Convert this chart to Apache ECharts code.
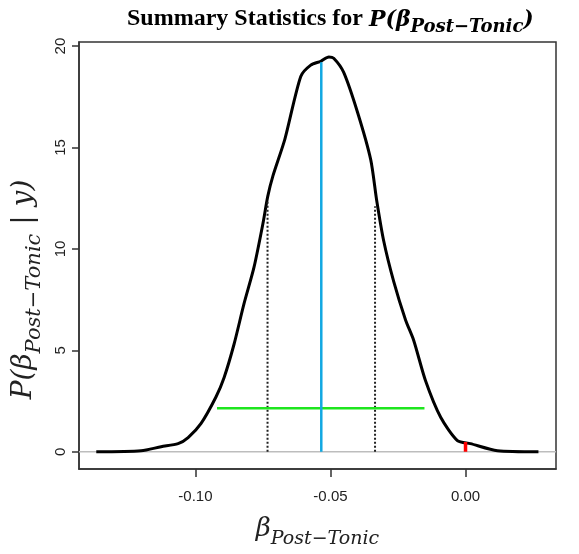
<!DOCTYPE html>
<html>
<head>
<meta charset="utf-8">
<script src="https://cdn.jsdelivr.net/npm/echarts@6/dist/echarts.min.js"></script>
<style>
  html, body { margin: 0; padding: 0; background: #fff; }
</style>
</head>
<body>
<div id="chart" style="width: 579px; height: 554px"></div>
<script>
// posterior density of beta
var betaX = [-0.1367, -0.1201, -0.1127, -0.1064, -0.1027, -0.0979, -0.0924, -0.0894, -0.0857, -0.0820,
  -0.0783, -0.0750, -0.0732, -0.0713, -0.0669, -0.0610, -0.0573, -0.0536, -0.0506, -0.0488,
  -0.0451, -0.0399, -0.0351, -0.0329, -0.0303, -0.0266, -0.0222, -0.0192, -0.0148, -0.0092,
  -0.0030, 0.0018, 0.0118, 0.0270];
var density = [0, 0.05, 0.25, 0.4, 0.7, 1.4, 2.7, 3.65, 5.3, 7.3,
  9.1, 11.25, 12.6, 13.6, 15.4, 18.5, 19.06, 19.25, 19.46, 19.4,
  18.7, 16.7, 14.4, 12.4, 10.4, 8.4, 6.5, 5.5, 3.5, 1.7,
  0.55, 0.4, 0.05, 0];

// summary statistics
var meanX = -0.0534;
var meanTop = 19.2;
var quartX = [-0.0733, -0.0335];
var quartTop = [12.4, 12.1];
var hdiX = [-0.0920, -0.0152];
var hdiY = 2.14;
var zeroTop = 0.48;

var xTicks = [-0.10, -0.05, 0.00];
var yTicks = [0, 5, 10, 15, 20];

var chart = echarts.init(document.getElementById("chart"));

function seg(x1, y1, x2, y2) {
  return [[x1, y1], [x2, y2]];
}

var serif = "Liberation Serif";
var mathFont = "DejaVu Serif";

var option = {
  animation: false,
  title: {
    left: 122,
    top: 2,
    text: "{n|Summary Statistics for}{p|P(β}{s|Post−Tonic}{m|)}",
    textStyle: {
      rich: {
        n: { fontFamily: serif, fontWeight: "bold", fontSize: 24, color: "#000", verticalAlign: "bottom", padding: [0, 0, 5, 0] },
        p: { fontFamily: mathFont, fontWeight: "bold", fontStyle: "italic", fontSize: 22, color: "#000", verticalAlign: "bottom", padding: [0, 0, 5, 6] },
        m: { fontFamily: mathFont, fontWeight: "bold", fontStyle: "italic", fontSize: 22, color: "#000", verticalAlign: "bottom", padding: [0, 0, 5, 0] },
        s: { fontFamily: mathFont, fontWeight: "bold", fontStyle: "italic", fontSize: 18, color: "#000", verticalAlign: "bottom" }
      }
    }
  },
  grid: {
    left: 79,
    right: 23,
    top: 42,
    bottom: 85,
    outerBoundsMode: "none",
    containLabel: false,
    show: true,
    borderColor: "#333",
    borderWidth: 1.5
  },
  xAxis: {
    type: "value",
    min: -0.1431,
    max: 0.0335,
    splitLine: { show: false },
    axisLine: { show: true, onZero: false, lineStyle: { color: "#333", width: 1.5 } },
    axisTick: { show: true, customValues: xTicks, length: 8, lineStyle: { color: "#333", width: 1.5 } },
    axisLabel: {
      customValues: xTicks,
      margin: 20,
      fontFamily: "Liberation Sans",
      fontSize: 15,
      color: "#222",
      formatter: function (v) { return v.toFixed(2); }
    },
    name: "{b|β}{s|Post−Tonic}",
    nameLocation: "middle",
    nameGap: 47,
    nameTextStyle: {
      rich: {
        b: { fontFamily: mathFont, fontStyle: "italic", fontSize: 26, color: "#222", verticalAlign: "bottom", padding: [0, 0, 7, 0] },
        s: { fontFamily: mathFont, fontStyle: "italic", fontSize: 19, color: "#222", verticalAlign: "bottom" }
      }
    }
  },
  yAxis: {
    type: "value",
    position: "left",
    min: -0.85,
    max: 20.2,
    splitLine: { show: false },
    axisLine: { show: true, onZero: false, lineStyle: { color: "#333", width: 1.5 } },
    axisTick: { show: true, customValues: yTicks, length: 7, lineStyle: { color: "#333", width: 1.5 } },
    axisLabel: {
      customValues: yTicks,
      rotate: 90,
      margin: 11,
      fontFamily: "Liberation Sans",
      fontSize: 15,
      color: "#222"
    },
    name: "{m|P(β}{s|Post−Tonic}{m| | y)}",
    nameLocation: "middle",
    nameRotate: 90,
    nameGap: 21,
    nameTextStyle: {
      padding: [0, 68, 0, 0],
      rich: {
        m: { fontFamily: mathFont, fontStyle: "italic", fontSize: 28, color: "#222", verticalAlign: "bottom", padding: [0, 0, 7, 0] },
        s: { fontFamily: mathFont, fontStyle: "italic", fontSize: 21, color: "#222", verticalAlign: "bottom" }
      }
    }
  },
  series: [
    {
      name: "zero",
      type: "line",
      symbol: "none",
      data: seg(-0.1431, 0, 0.0335, 0),
      lineStyle: { color: "#bdbdbd", width: 1.5 }
    },
    {
      name: "density",
      type: "line",
      symbol: "none",
      smooth: 0.25,
      data: betaX.map(function (x, i) { return [x, density[i]]; }),
      lineStyle: { color: "#000", width: 3 }
    },
    {
      name: "q1",
      type: "line",
      symbol: "none",
      data: seg(quartX[0], 0, quartX[0], quartTop[0]),
      lineStyle: { color: "#222", width: 2, type: [2, 2] }
    },
    {
      name: "q3",
      type: "line",
      symbol: "none",
      data: seg(quartX[1], 0, quartX[1], quartTop[1]),
      lineStyle: { color: "#222", width: 2, type: [2, 2] }
    },
    {
      name: "hdi",
      type: "line",
      symbol: "none",
      data: seg(hdiX[0], hdiY, hdiX[1], hdiY),
      lineStyle: { color: "#1ee61e", width: 2.5 }
    },
    {
      name: "mean",
      type: "line",
      symbol: "none",
      data: seg(meanX, 0, meanX, meanTop),
      lineStyle: { color: "#12a8e2", width: 2.5 }
    },
    {
      name: "zeroMark",
      type: "line",
      symbol: "none",
      data: seg(0, 0, 0, zeroTop),
      lineStyle: { color: "#ff0000", width: 3.5 }
    }
  ]
};

option && chart.setOption(option);
</script>
</body>
</html>
